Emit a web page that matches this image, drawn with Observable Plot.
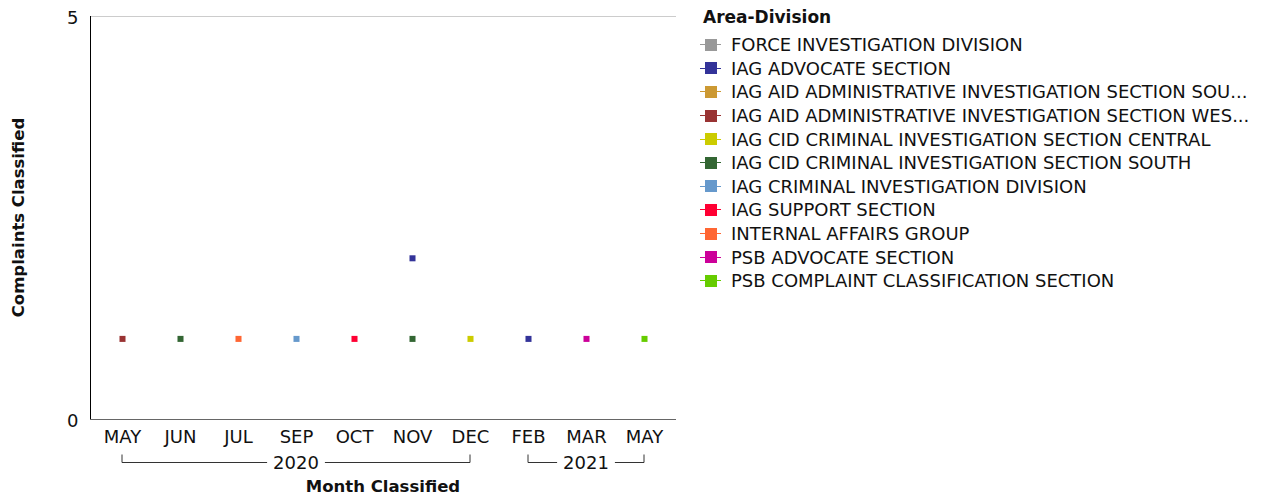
<!DOCTYPE html>
<html><head><meta charset="utf-8">
<script src="https://cdn.jsdelivr.net/npm/d3@7"></script>
<script src="https://cdn.jsdelivr.net/npm/@observablehq/plot@0.6"></script>
<style>
body{margin:0;background:#fff;font-family:"DejaVu Sans",sans-serif;}
#wrap{position:relative;width:1264px;height:498px;}
#chart{position:absolute;left:0;top:0;}
#legend{position:absolute;left:700px;top:4px;font-size:18px;color:#111;}
#legend .title{font-weight:bold;font-size:17px;margin-left:3px;height:29px;line-height:26px;}
#legend .item{display:flex;align-items:center;height:23.6px;white-space:nowrap;}
#legend .sw{position:relative;width:21px;height:12px;margin-right:10px;flex:none;}
#legend .sw .ln{position:absolute;left:0;top:5.5px;width:21px;height:1px;}
#legend .sw .sq{position:absolute;left:5px;top:0;width:12px;height:12px;}
</style></head>
<body><div id="wrap"><div id="chart"></div><div id="legend"></div></div>
<script>
const monthKeys = ["2020-05","2020-06","2020-07","2020-09","2020-10","2020-11","2020-12","2021-02","2021-03","2021-05"];
const monthLabels = ["MAY","JUN","JUL","SEP","OCT","NOV","DEC","FEB","MAR","MAY"];
const years = ["2020","2021"];
const yearFirst = ["2020-05","2021-02"];
const yearLast = ["2020-12","2021-05"];
const divisions = [
  "FORCE INVESTIGATION DIVISION",
  "IAG ADVOCATE SECTION",
  "IAG AID ADMINISTRATIVE INVESTIGATION SECTION SOU...",
  "IAG AID ADMINISTRATIVE INVESTIGATION SECTION WES...",
  "IAG CID CRIMINAL INVESTIGATION SECTION CENTRAL",
  "IAG CID CRIMINAL INVESTIGATION SECTION SOUTH",
  "IAG CRIMINAL INVESTIGATION DIVISION",
  "IAG SUPPORT SECTION",
  "INTERNAL AFFAIRS GROUP",
  "PSB ADVOCATE SECTION",
  "PSB COMPLAINT CLASSIFICATION SECTION"
];
const divisionColors = ["#999999","#333399","#cc9933","#993333","#cccc00","#336633","#6699cc","#ff0033","#ff6633","#cc0099","#66cc00"];
const pointMonth = ["2020-05","2020-06","2020-07","2020-09","2020-10","2020-11","2020-11","2020-12","2021-02","2021-03","2021-05"];
const pointDivision = [3,5,8,6,7,1,5,4,1,9,10];
const pointValue = [1,1,1,1,1,2,1,1,1,1,1];
const yTicks = [0,5];

const data = pointMonth.map((m,i)=>({month:m, division:divisions[pointDivision[i]], value:pointValue[i]}));
const labelOf = new Map(monthKeys.map((k,i)=>[k,monthLabels[i]]));
const FONT = '"DejaVu Sans",sans-serif';

const chart = Plot.plot({
  width: 690, height: 498,
  marginLeft: 90, marginRight: 14, marginTop: 16, marginBottom: 79,
  style: {fontFamily: FONT, fontSize: "18px", color: "#111", background: "#fff"},
  x: {type: "point", domain: monthKeys, padding: 0.5, label: null},
  y: {domain: [0,5], label: null},
  color: {domain: divisions, range: divisionColors},
  marks: [
    Plot.ruleY([5], {stroke: "#cccccc"}),
    Plot.ruleY([0], {stroke: "#666666"}),
    Plot.axisX({tickSize: 0, tickPadding: 11, tickFormat: d => labelOf.get(d), fontSize: 18, fill: "#111"}),
    Plot.axisY(yTicks, {tickSize: 0, tickPadding: 12, tickFormat: "d", fontSize: 18, fill: "#111", dy: 2}),
    Plot.dot(data, {x: "month", y: "value", fill: "division", symbol: "square", r: 3.4, stroke: null})
  ]
});
document.getElementById("chart").appendChild(chart);

const svg = d3.select(chart);
const xs = chart.scale("x"), ys = chart.scale("y");
const X = v => xs.apply(v), Y = v => ys.apply(v);
// left axis line
svg.append("line").attr("x1",90.5).attr("x2",90.5).attr("y1",Y(5)).attr("y2",Y(0)).attr("stroke","#000");
// year brackets
const by = 462.5;
years.forEach((yr,i)=>{
  const x1 = X(yearFirst[i]), x2 = X(yearLast[i]), xm = (x1+x2)/2;
  const g = svg.append("g");
  const t = g.append("text").attr("x",xm).attr("y",by).attr("dy","0.35em").attr("text-anchor","middle")
    .style("font-family",FONT).style("font-size","18px").attr("fill","#111").text(yr);
  const w = t.node().getComputedTextLength();
  const gap = w/2 + 6;
  const path = `M${x1},${by-8}V${by}H${xm-gap}M${xm+gap},${by}H${x2}V${by-8}`;
  g.append("path").attr("d",path).attr("fill","none").attr("stroke","#333").attr("stroke-width",1);
});
// axis titles
svg.append("text").attr("transform",`translate(18,${(Y(0)+Y(5))/2}) rotate(-90)`).attr("text-anchor","middle").attr("dy","0.35em")
  .style("font-family",FONT).style("font-size","16.5px").style("font-weight","bold").attr("fill","#111").text("Complaints Classified");
svg.append("text").attr("x",(90+676)/2).attr("y",486).attr("text-anchor","middle").attr("dy","0.35em")
  .style("font-family",FONT).style("font-size","16.5px").style("font-weight","bold").attr("fill","#111").text("Month Classified");

// legend
const lg = d3.select("#legend");
lg.append("div").attr("class","title").text("Area-Division");
divisions.forEach((d,i)=>{
  const it = lg.append("div").attr("class","item");
  const sw = it.append("div").attr("class","sw");
  sw.append("div").attr("class","ln").style("background",divisionColors[i]);
  sw.append("div").attr("class","sq").style("background",divisionColors[i]);
  it.append("span").text(d);
});
</script></body></html>
